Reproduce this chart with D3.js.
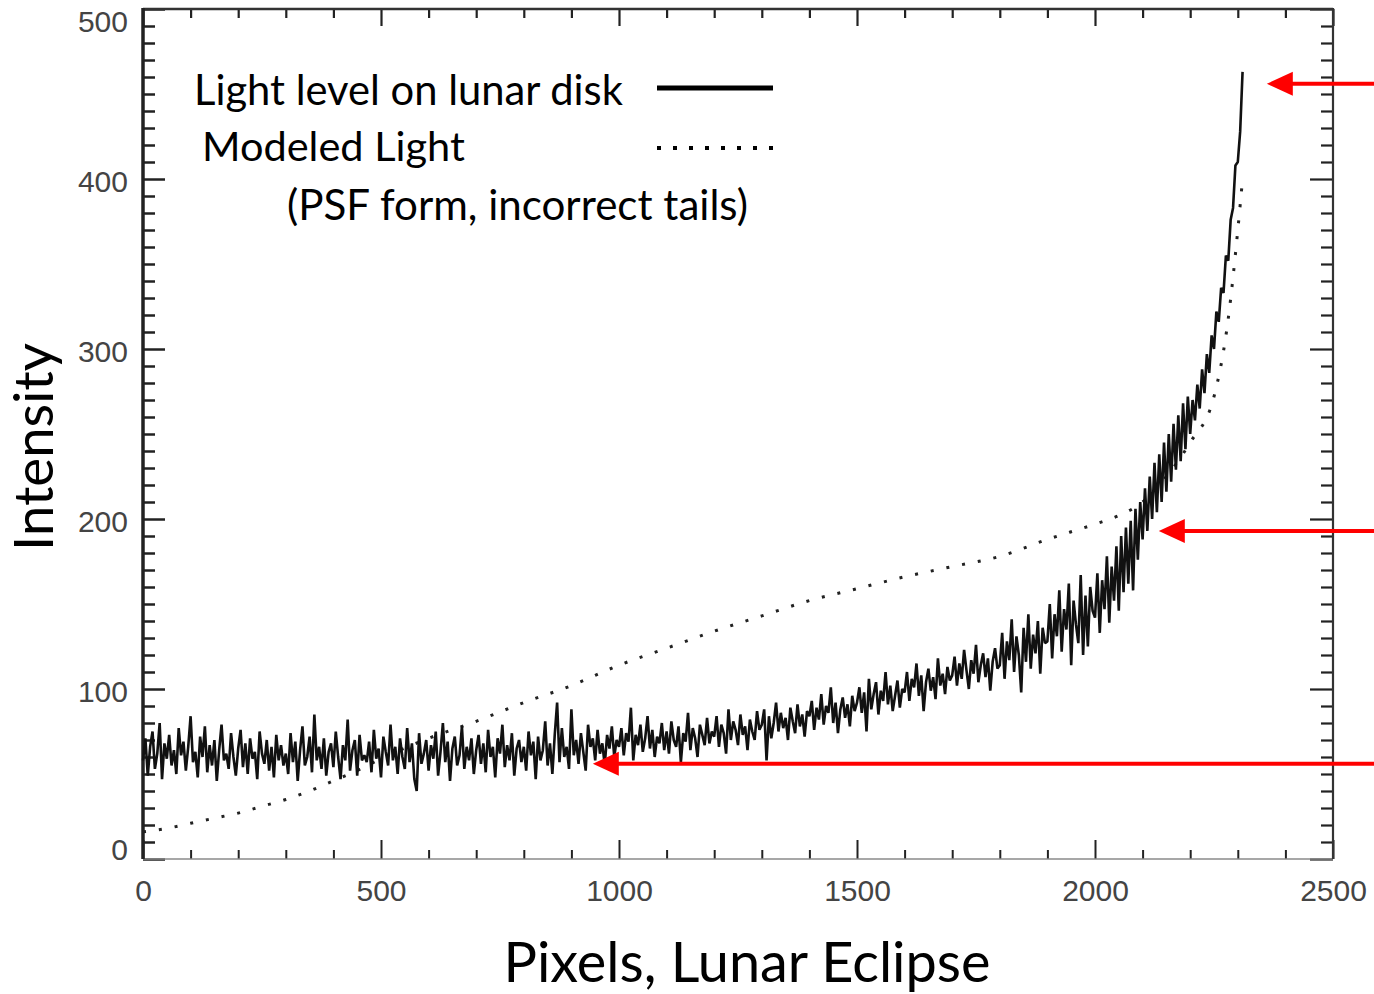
<!DOCTYPE html>
<html>
<head>
<meta charset="utf-8">
<script src="https://cdn.jsdelivr.net/npm/d3@7"></script>
<style>
  body { margin: 0; background: #fff; }
  svg { display: block; }
</style>
</head>
<body>
<svg id="chart"></svg>
<script>
// light level samples, one every 5 pixels from 0 to 2310
const sampleStep = 5;
const lightLevel = [
  58,71,49,66,75,53,62,80,47,68,59,73,55,64,50,77,61,69,52,66,
  84,57,63,48,72,60,78,51,67,55,70,46,64,79,58,62,53,74,60,49,
  65,76,54,68,50,71,59,63,47,75,62,56,70,52,66,48,73,58,67,55,
  62,50,74,57,69,46,64,78,55,60,72,51,85,58,66,53,71,49,63,68,
  54,75,60,47,67,58,82,52,64,70,49,73,58,61,57,69,51,76,59,65,
  48,72,63,55,79,58,66,50,71,60,53,77,57,68,47,40,74,56,62,70,
  52,67,59,75,49,63,80,57,69,46,65,72,55,61,78,53,66,58,71,50,
  64,73,56,68,51,76,60,66,48,71,62,79,54,67,58,74,49,65,70,57,
  66,52,75,61,69,47,72,58,64,81,55,68,50,73,92,57,77,60,66,53,
  88,61,70,56,74,63,52,79,66,71,58,76,62,68,55,73,65,78,60,70,
  66,77,61,74,69,89,58,73,67,79,63,71,84,65,76,60,72,68,80,64,
  75,62,81,70,66,78,57,74,69,86,64,77,71,60,79,73,67,83,68,75,
  72,84,66,79,74,62,88,70,81,76,67,85,73,78,64,82,75,70,87,76,
  79,88,58,84,71,80,92,75,86,77,83,70,89,81,74,91,78,85,72,87,
  84,93,76,89,82,97,79,90,86,101,80,92,74,88,95,83,91,78,96,87,
  92,101,86,98,75,106,88,97,104,85,99,93,110,91,102,87,96,105,89,100,
  98,110,93,106,101,115,96,108,87,104,112,99,107,94,118,102,109,97,113,105,
  108,119,102,115,106,123,111,100,117,109,126,104,114,121,107,118,99,116,124,112,
  114,133,106,128,117,141,110,131,120,98,136,116,144,112,132,121,140,109,136,127,
  128,150,118,144,131,158,122,147,135,162,114,152,138,127,167,120,155,125,160,146,
  142,168,133,164,147,178,139,172,152,184,146,190,157,195,162,199,158,206,176,210,
  188,218,193,225,200,233,204,238,210,245,216,250,222,256,229,261,234,268,241,272,
  250,270,258,279,265,288,274,297,286,308,300,322,316,336,333,355,352,376,383,408,
  410,428,463
];

// modeled light (PSF form)
const modelPixels = [0,50,100,150,200,250,300,350,400,450,500,600,700,800,900,1000,1100,1200,1300,1400,1500,1600,1700,1800,1900,2000,2050,2100,2150,2200,2250,2280,2300,2310];
const modelLight  = [16,18,21,24,27,31,35,40,46,52,59,71,81,92,102,114,124,134,143,152,159,166,172,178,188,197,202,210,225,245,272,318,370,400];

const xTicks = [0, 500, 1000, 1500, 2000, 2500];
const yTicks = [0, 100, 200, 300, 400, 500];

const legendLabels = ["Light level on lunar disk", "Modeled Light", "(PSF form, incorrect tails)"];

// red arrows: tip position in data units
const arrowTips = [
  { px: 2361, val: 456 },
  { px: 2134, val: 193 },
  { px: 945, val: 56 }
];

const width = 1374, height = 994;
const svg = d3.select("#chart").attr("width", width).attr("height", height);

const x = d3.scaleLinear().domain([0, 2500]).range([143, 1333]);
const y = d3.scaleLinear().domain([0, 500]).range([859, 9]);

const minorX = d3.range(0, 2501, 100).filter(d => d % 500 !== 0);
const minorY = d3.range(0, 501, 10).filter(d => d % 100 !== 0);

const tickColor = "#222";
const labelFont = "'Liberation Sans', Arial, sans-serif";

function styleAxis(g, w) {
  g.select(".domain").remove();
  g.selectAll(".tick line").attr("stroke", tickColor).attr("stroke-width", w);
}

// left axis
svg.append("g").attr("transform", `translate(${x(0)},0)`)
  .call(d3.axisLeft(y).tickValues(minorY).tickSize(-12).tickFormat(""))
  .call(g => styleAxis(g, 2.5));
svg.append("g").attr("transform", `translate(${x(0)},0)`)
  .call(d3.axisLeft(y).tickValues(yTicks).tickSize(-22).tickPadding(15).tickFormat(d3.format("d")))
  .call(g => styleAxis(g, 2.5))
  .call(g => g.selectAll("text")
    .attr("font-family", labelFont).attr("font-size", 30).attr("fill", "#444")
    .attr("dy", d => d === 500 ? "0.75em" : d === 0 ? "0.0em" : "0.4em"));

// right axis
svg.append("g").attr("transform", `translate(${x(2500)},0)`)
  .call(d3.axisRight(y).tickValues(minorY).tickSize(-12).tickFormat(""))
  .call(g => styleAxis(g, 2.2));
svg.append("g").attr("transform", `translate(${x(2500)},0)`)
  .call(d3.axisRight(y).tickValues(yTicks).tickSize(-23).tickFormat(""))
  .call(g => styleAxis(g, 2.2));

// bottom axis
svg.append("g").attr("transform", `translate(0,${y(0)})`)
  .call(d3.axisBottom(x).tickValues(minorX).tickSize(-9).tickFormat(""))
  .call(g => styleAxis(g, 2));
svg.append("g").attr("transform", `translate(0,${y(0)})`)
  .call(d3.axisBottom(x).tickValues(xTicks).tickSize(-19).tickPadding(21).tickFormat(d3.format("d")))
  .call(g => styleAxis(g, 2))
  .call(g => g.selectAll("text")
    .attr("font-family", labelFont).attr("font-size", 30).attr("fill", "#444"));

// top axis
svg.append("g").attr("transform", `translate(0,${y(500)})`)
  .call(d3.axisTop(x).tickValues(minorX).tickSize(-9).tickFormat(""))
  .call(g => styleAxis(g, 2.2));
svg.append("g").attr("transform", `translate(0,${y(500)})`)
  .call(d3.axisTop(x).tickValues(xTicks).tickSize(-17).tickFormat(""))
  .call(g => styleAxis(g, 2.2));

// frame
svg.append("line").attr("x1", x(0)).attr("x2", x(2500)).attr("y1", y(0)).attr("y2", y(0))
  .attr("stroke", "#8a8a8a").attr("stroke-width", 1.5);
svg.append("line").attr("x1", x(0)).attr("x2", x(2500)).attr("y1", y(500)).attr("y2", y(500))
  .attr("stroke", "#333").attr("stroke-width", 2.5);
svg.append("line").attr("x1", x(0)).attr("x2", x(0)).attr("y1", y(500) - 1).attr("y2", y(0))
  .attr("stroke", "#222").attr("stroke-width", 3.5);
svg.append("line").attr("x1", x(2500)).attr("x2", x(2500)).attr("y1", y(500) - 1).attr("y2", y(0))
  .attr("stroke", "#333").attr("stroke-width", 2.2);

// modeled light, dotted
const modelLine = d3.line().x((d, i) => x(modelPixels[i])).y(d => y(d)).curve(d3.curveMonotoneX);
svg.append("path")
  .attr("d", modelLine(modelLight))
  .attr("fill", "none")
  .attr("stroke", "#222")
  .attr("stroke-width", 3)
  .attr("stroke-dasharray", "3,13");

// light level, noisy solid line
const lightLine = d3.line().x((d, i) => x(i * sampleStep)).y(d => y(d));
svg.append("path")
  .attr("d", lightLine(lightLevel))
  .attr("fill", "none")
  .attr("stroke", "#111")
  .attr("stroke-width", 2.6)
  .attr("stroke-linejoin", "bevel");

// text helpers
const titleFont = "Lato, 'Open Sans', sans-serif";
function fitWidth(sel, target) {
  const fs = +sel.attr("font-size");
  const w = sel.node().getComputedTextLength();
  sel.attr("font-size", fs * target / w);
}

// legend
const legendRows = [
  { x: 194, y: 105, w: 429 },
  { x: 202, y: 161, w: 263 },
  { x: 287, y: 220, w: 461 }
];
legendLabels.forEach((t, i) => {
  const r = legendRows[i];
  const txt = svg.append("text")
    .attr("x", r.x).attr("y", r.y)
    .attr("font-family", titleFont).attr("font-size", 40).attr("fill", "#000")
    .text(t);
  fitWidth(txt, r.w);
});
svg.append("line").attr("x1", 657).attr("x2", 773).attr("y1", 88).attr("y2", 88)
  .attr("stroke", "#000").attr("stroke-width", 5);
svg.append("line").attr("x1", 657).attr("x2", 775).attr("y1", 148).attr("y2", 148)
  .attr("stroke", "#000").attr("stroke-width", 4).attr("stroke-dasharray", "4,12");

// axis titles
const xTitle = svg.append("text")
  .attr("x", 747).attr("y", 982).attr("text-anchor", "middle")
  .attr("font-family", titleFont).attr("font-size", 56).attr("fill", "#000")
  .text("Pixels, Lunar Eclipse");
fitWidth(xTitle, 487);

const yTitle = svg.append("text")
  .attr("transform", "translate(53,447) rotate(-90)")
  .attr("text-anchor", "middle")
  .attr("font-family", titleFont).attr("font-size", 56).attr("fill", "#000")
  .text("Intensity");
fitWidth(yTitle, 208);

// red arrows
const arrows = svg.append("g");
arrowTips.forEach(a => {
  const tx = x(a.px), ty = y(a.val);
  arrows.append("line")
    .attr("x1", tx + 20).attr("x2", width).attr("y1", ty).attr("y2", ty)
    .attr("stroke", "#ff0000").attr("stroke-width", 4);
  arrows.append("path")
    .attr("d", `M${tx},${ty} L${tx + 26},${ty - 12} L${tx + 26},${ty + 12} Z`)
    .attr("fill", "#ff0000");
});
</script>
</body>
</html>
